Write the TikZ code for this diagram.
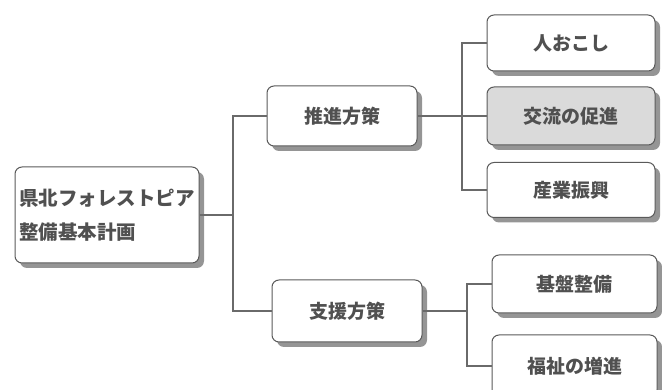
\documentclass[tikz,border=0pt]{standalone}
\usepackage{fontspec}
\newfontfamily\jp{Noto Sans CJK JP}
\usetikzlibrary{shadows}
\definecolor{txt}{HTML}{505050}
\definecolor{edge}{HTML}{5A5A5A}
\definecolor{shd}{HTML}{959595}
\definecolor{hl}{HTML}{DADADA}
\definecolor{wire}{HTML}{6A6A6A}
\tikzset{
  box/.style={draw=edge, line width=1pt, rounded corners=7pt, fill=white,
    text=txt, font=\jp\bfseries\fontsize{19}{34}\selectfont,
    drop shadow={shadow xshift=5pt, shadow yshift=-5pt, fill=shd, opacity=1},
    inner sep=0pt, align=center},
  wireline/.style={draw=wire, line width=1.4pt},
}
\begin{document}
\begin{tikzpicture}[x=1pt,y=-1pt]
\useasboundingbox (0,0) rectangle (662,390);
\node[box, minimum width=184pt, minimum height=96pt, align=left,
      font=\jp\bfseries\fontsize{19.5}{34}\selectfont] (root) at (107,215) {県北フォレストピア\\整備基本計画};
\node[box, minimum width=150pt, minimum height=60pt] (p1) at (342,116) {推進方策};
\node[box, minimum width=150pt, minimum height=62pt] (p2) at (347,311) {支援方策};
\node[box, minimum width=168pt, minimum height=56pt] (c1) at (571,43) {人おこし};
\node[box, minimum width=168pt, minimum height=58pt, fill=hl] (c2) at (571,116) {交流の促進};
\node[box, minimum width=168pt, minimum height=55pt] (c3) at (571,190) {産業振興};
\node[box, minimum width=165pt, minimum height=58pt] (c4) at (574.5,284) {基盤整備};
\node[box, minimum width=165pt, minimum height=62pt] (c5) at (574.5,366) {福祉の増進};
\coordinate (j1) at (233,215);
\coordinate (j2) at (462,116);
\coordinate (j3) at (467,311);
\draw[wireline] (root.east) -- (j1);
\draw[wireline] (j1) |- (p1.west);
\draw[wireline] (j1) |- (p2.west);
\draw[wireline] (p1.east) -- (j2);
\draw[wireline] (j2) |- (c1.west);
\draw[wireline] (j2) -- (c2.west);
\draw[wireline] (j2) |- (c3.west);
\draw[wireline] (p2.east) -- (j3);
\draw[wireline] (j3) |- (c4.west);
\draw[wireline] (j3) |- (c5.west);
\end{tikzpicture}
\end{document}
